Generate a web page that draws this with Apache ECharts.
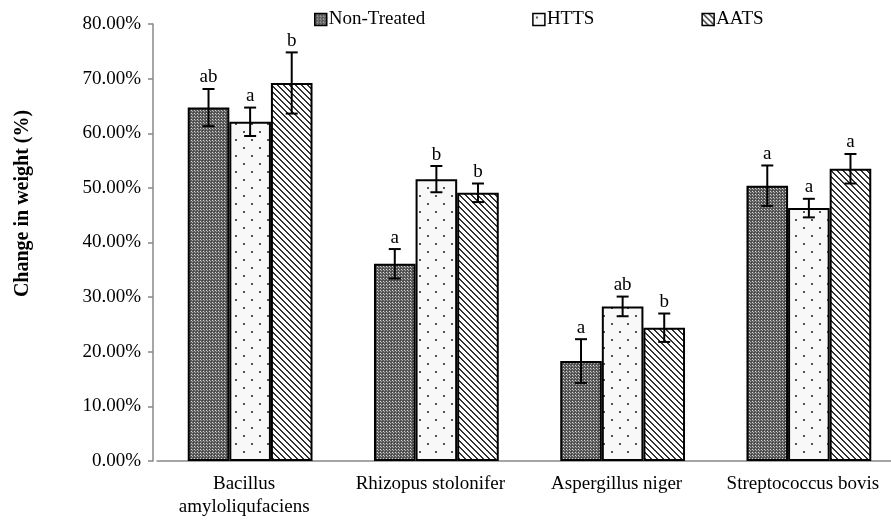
<!DOCTYPE html>
<html>
<head>
<meta charset="utf-8">
<script src="https://cdn.jsdelivr.net/npm/echarts@6/dist/echarts.min.js"></script>
<style>html,body{margin:0;padding:0;background:#fff}#c{width:891px;height:522px}</style>
</head>
<body>
<div id="c"></div>
<script>
var categories = ['Bacillus\namyloliqufaciens', 'Rhizopus stolonifer', 'Aspergillus niger', 'Streptococcus bovis'];
var seriesNames = ['Non-Treated', 'HTTS', 'AATS'];
var nonTreated = [64.7, 36.1, 18.3, 50.4];
var htts = [62.1, 51.6, 28.3, 46.3];
var aats = [69.2, 49.1, 24.4, 53.5];
var errNonTreated = [3.4, 2.7, 4.0, 3.7];
var errHtts = [2.6, 2.4, 1.8, 1.7];
var errAats = [5.6, 1.7, 2.6, 2.7];
var lettersNonTreated = ['ab', 'a', 'a', 'a'];
var lettersHtts = ['a', 'b', 'ab', 'a'];
var lettersAats = ['b', 'b', 'b', 'a'];
var yTicks = [0, 10, 20, 30, 40, 50, 60, 70, 80];

var FONT = '"Liberation Serif", "Times New Roman", serif';

function makePattern(kind) {
  var c = document.createElement('canvas');
  var ctx = c.getContext('2d');
  if (kind === 0) {
    c.width = 3; c.height = 3;
    ctx.fillStyle = '#5a5a5a'; ctx.fillRect(0, 0, 3, 3);
    ctx.fillStyle = '#a8a8a8'; ctx.fillRect(0, 0, 1, 1);
    ctx.fillStyle = '#d8d8d8'; ctx.fillRect(2, 2, 1, 1);
    ctx.fillStyle = '#444'; ctx.fillRect(1, 1, 1, 1);
  } else if (kind === 1) {
    c.width = 16; c.height = 16;
    ctx.fillStyle = '#f8f8f8'; ctx.fillRect(0, 0, 16, 16);
    ctx.fillStyle = '#555';
    ctx.fillRect(3, 3, 2, 2);
    ctx.fillRect(11, 11, 2, 2);
  } else {
    c.width = 6; c.height = 6;
    ctx.fillStyle = '#fff'; ctx.fillRect(0, 0, 6, 6);
    ctx.fillStyle = '#333';
    for (var i = 0; i < 6; i++) {
      ctx.fillRect(i, i, 1, 1);
      ctx.fillRect((i + 1) % 6, i, 1, 1);
    }
  }
  return c;
}
var patterns = [makePattern(0), makePattern(1), makePattern(2)];

var values = [nonTreated, htts, aats];
var errs = [errNonTreated, errHtts, errAats];
var letters = [lettersNonTreated, lettersHtts, lettersAats];
var GAP = 0.33;

var series = [];
for (var s = 0; s < 3; s++) {
  series.push({
    name: seriesNames[s],
    type: 'bar',
    data: values[s],
    barGap: '0%',
    barCategoryGap: (GAP * 100) + '%',
    itemStyle: {
      color: { image: patterns[s], repeat: 'repeat' },
      borderColor: '#000',
      borderWidth: 2
    },
    emphasis: { disabled: true },
    silent: true
  });
}
for (var s2 = 0; s2 < 3; s2++) {
  (function (si) {
    var data = values[si].map(function (v, i) { return [i, v, errs[si][i]]; });
    series.push({
      type: 'custom',
      silent: true,
      z: 10,
      data: data,
      renderItem: function (params, api) {
        var idx = api.value(0);
        var v = api.value(1);
        var e = api.value(2);
        var lab = letters[si][params.dataIndex];
        var band = api.size([1, 0])[0];
        var bw = band * (1 - GAP) / 3;
        var base = api.coord([idx, v]);
        var x = base[0] + (si - 1) * bw;
        var top = api.coord([idx, v + e])[1];
        var bot = api.coord([idx, v - e])[1];
        var cap = 6;
        var st = { stroke: '#000', lineWidth: 2 };
        return {
          type: 'group',
          children: [
            { type: 'line', shape: { x1: x, y1: top, x2: x, y2: bot }, style: st },
            { type: 'line', shape: { x1: x - cap, y1: top, x2: x + cap, y2: top }, style: st },
            { type: 'line', shape: { x1: x - cap, y1: bot, x2: x + cap, y2: bot }, style: st },
            { type: 'text', style: { text: lab, x: x, y: top - 2, textAlign: 'center', textVerticalAlign: 'bottom', font: '19px ' + FONT, fill: '#000' } }
          ]
        };
      }
    });
  })(s2);
}

var chart = echarts.init(document.getElementById('c'), null, { renderer: 'canvas' });
chart.setOption({
  animation: false,
  backgroundColor: '#fff',
  grid: { left: 157, right: -11, top: 24, bottom: 61, containLabel: false, outerBoundsMode: 'none' },
  legend: {
    data: seriesNames,
    top: 5,
    left: 309,
    itemGap: 107,
    itemWidth: 12,
    itemHeight: 12,
    icon: 'rect',
    textStyle: { fontFamily: FONT, fontSize: 19, color: '#000', padding: [0, 0, 0, -3] },
    itemStyle: { borderColor: '#000', borderWidth: 1.5 },
    selectedMode: false
  },
  xAxis: {
    type: 'category',
    data: categories,
    axisLine: { lineStyle: { color: '#888', width: 1.5 } },
    axisTick: { show: false },
    axisLabel: { fontFamily: FONT, fontSize: 19, color: '#000', margin: 12, lineHeight: 23, interval: 0, padding: [0, 12, 0, 0] }
  },
  yAxis: {
    type: 'value',
    min: yTicks[0],
    max: yTicks[yTicks.length - 1],
    interval: 10,
    offset: 4,
    name: 'Change in weight (%)',
    nameLocation: 'middle',
    nameGap: 120,
    nameTextStyle: { fontFamily: FONT, fontSize: 20, fontWeight: 'bold', color: '#000', padding: [0, 0, 0, 78] },
    axisLine: { show: true, lineStyle: { color: '#888', width: 1.5 } },
    axisTick: { show: true, length: 5, lineStyle: { color: '#888', width: 1.5 } },
    splitLine: { show: false },
    axisLabel: { fontFamily: FONT, fontSize: 19, color: '#000', margin: 12, formatter: function (v) { return v.toFixed(2) + '%'; } }
  },
  series: series
});
</script>
</body>
</html>
